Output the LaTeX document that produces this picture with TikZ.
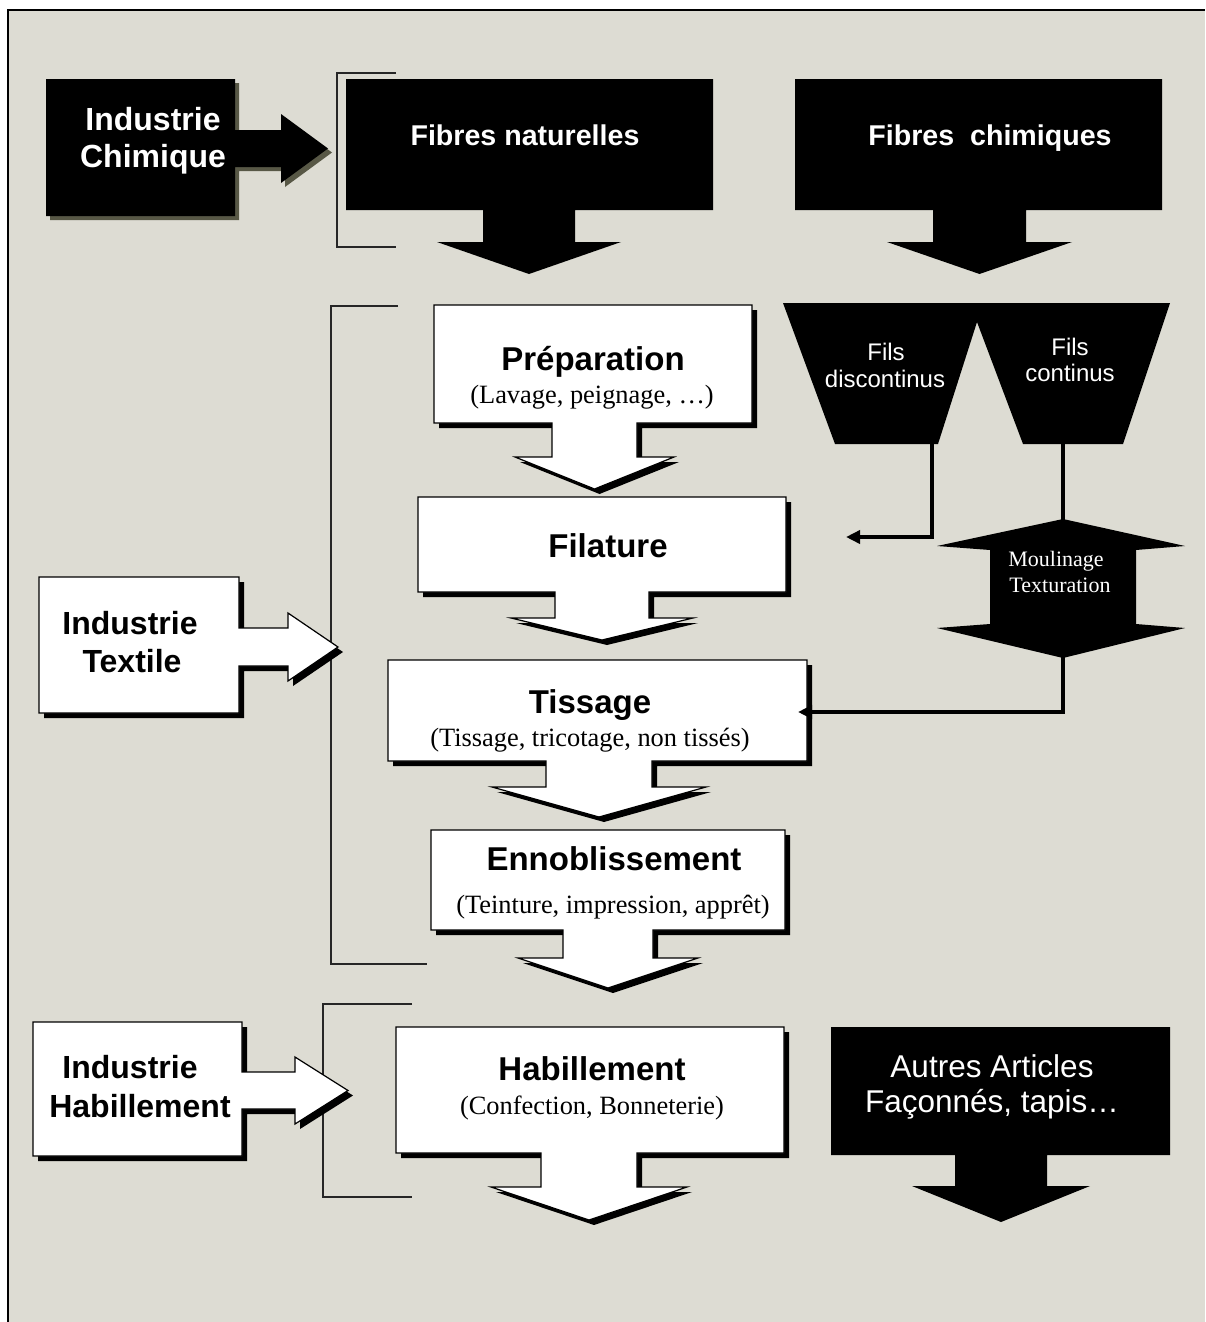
\documentclass[tikz,border=0pt]{standalone}
\usepackage{fontspec}
\setmainfont{Liberation Serif}
\setsansfont{Liberation Sans}
\usetikzlibrary{arrows.meta}
\definecolor{bg}{RGB}{221,220,211}
\definecolor{shadowc}{RGB}{88,88,70}
\tikzset{
  whiteshape/.style={fill=white, draw=black, line width=1.2pt, line join=miter},
  bracketline/.style={draw=black!85, line width=1.6pt},
  conn/.style={draw=black, line width=3.5pt},
  connarrow/.style={conn, -{Triangle[length=14pt,width=13pt]}},
  lbl/.style={inner sep=0pt, anchor=base},
  fibtxt/.style={lbl, text=white, font=\sffamily\bfseries\fontsize{28.6}{32}\selectfont},
  indwtxt/.style={lbl, text=white, font=\sffamily\bfseries\fontsize{32}{36}\selectfont},
  indbtxt/.style={lbl, text=black, font=\sffamily\bfseries\fontsize{32}{36}\selectfont},
  ttltxt/.style={lbl, text=black, font=\sffamily\bfseries\fontsize{33}{37}\selectfont},
  subtxt/.style={lbl, text=black, font=\rmfamily\fontsize{26.4}{30}\selectfont},
  filstxt/.style={lbl, text=white, font=\sffamily\fontsize{24}{28}\selectfont},
  moultxt/.style={lbl, text=white, font=\rmfamily\fontsize{22}{26}\selectfont},
  autrestxt/.style={lbl, text=white, font=\sffamily\fontsize{31.5}{35}\selectfont},
}
% box with a downward arrow: L,T,R,B, shaft L, shaft R, shaft bottom, head overhang, tip y
\newcommand\wdown[9]{%
  \fill[black,shift={(5,5)}] (#1,#2) -- (#3,#2) -- (#3,#4) -- (#6,#4) -- (#6,#7) -- ({#6+#8},#7) -- ({(#5+#6)/2},#9) -- ({#5-#8},#7) -- (#5,#7) -- (#5,#4) -- (#1,#4) -- cycle;
  \filldraw[whiteshape] (#1,#2) -- (#3,#2) -- (#3,#4) -- (#6,#4) -- (#6,#7) -- ({#6+#8},#7) -- ({(#5+#6)/2},#9) -- ({#5-#8},#7) -- (#5,#7) -- (#5,#4) -- (#1,#4) -- cycle;}
\newcommand\bdown[9]{%
  \fill[black] (#1,#2) -- (#3,#2) -- (#3,#4) -- (#6,#4) -- (#6,#7) -- ({#6+#8},#7) -- ({(#5+#6)/2},#9) -- ({#5-#8},#7) -- (#5,#7) -- (#5,#4) -- (#1,#4) -- cycle;}
% box with a rightward arrow: L,T,R,B, shaft top, shaft bottom, head x, head overhang, tip x
\newcommand\wright[9]{%
  \fill[black,shift={(5,5)}] (#1,#2) -- (#3,#2) -- (#3,#5) -- (#7,#5) -- (#7,{#5-#8}) -- (#9,{(#5+#6)/2}) -- (#7,{#6+#8}) -- (#7,#6) -- (#3,#6) -- (#3,#4) -- (#1,#4) -- cycle;
  \filldraw[whiteshape] (#1,#2) -- (#3,#2) -- (#3,#5) -- (#7,#5) -- (#7,{#5-#8}) -- (#9,{(#5+#6)/2}) -- (#7,{#6+#8}) -- (#7,#6) -- (#3,#6) -- (#3,#4) -- (#1,#4) -- cycle;}
\newcommand\bright[9]{%
  \fill[shadowc,shift={(4,4)}] (#1,#2) -- (#3,#2) -- (#3,#5) -- (#7,#5) -- (#7,{#5-#8}) -- (#9,{(#5+#6)/2}) -- (#7,{#6+#8}) -- (#7,#6) -- (#3,#6) -- (#3,#4) -- (#1,#4) -- cycle;
  \fill[black] (#1,#2) -- (#3,#2) -- (#3,#5) -- (#7,#5) -- (#7,{#5-#8}) -- (#9,{(#5+#6)/2}) -- (#7,{#6+#8}) -- (#7,#6) -- (#3,#6) -- (#3,#4) -- (#1,#4) -- cycle;}
\begin{document}
\begin{tikzpicture}[x=1pt,y=-1pt]
\useasboundingbox (0,0) rectangle (1205,1322);
\fill[white] (0,0) rectangle (1205,1322);
\fill[bg] (8,10) rectangle (1205,1322);
\draw[line width=1.5pt] (8,1322) -- (8,10) -- (1205,10);

% brackets
\draw[bracketline] (396,73) -- (337,73) -- (337,247) -- (396,247);
\draw[bracketline] (398,306) -- (331,306) -- (331,964) -- (427,964);
\draw[bracketline] (412,1004) -- (323,1004) -- (323,1197) -- (412,1197);

% industry boxes with right arrows
\bright{46}{79}{235}{216}{130}{167}{281}{16}{328}
\wright{39}{577}{239}{713}{628}{666}{288}{15}{338}
\wright{33}{1022}{242}{1156}{1072}{1109}{295}{15}{348}

% boxes with down arrows
\bdown{346}{79}{713}{210}{483}{575}{242}{46}{274}
\bdown{795}{79}{1162}{210}{933}{1026}{242}{46}{274}
\wdown{434}{305}{752}{423}{552}{637}{457}{37}{489}
\wdown{418}{497}{786}{592}{555}{649}{618}{44}{640}
\wdown{388}{660}{807}{761}{546}{652}{787}{54}{817}
\wdown{431}{830}{785}{930}{563}{653}{958}{45}{988}
\wdown{396}{1027}{784}{1153}{541}{637}{1187}{50}{1220}
\bdown{831}{1027}{1170}{1155}{955}{1047}{1186}{43}{1222}

% fils (two trapezoids)
\fill[black] (783,303) -- (1170,303) -- (1123,444) -- (1023,444) -- (977,322) -- (938,444) -- (835,444) -- cycle;
% moulinage double arrow
\fill[black] (1063,519) -- (1185,546) -- (1136,550) -- (1136,624) -- (1185,628) -- (1063,658) -- (937,628) -- (990,624) -- (990,550) -- (937,546) -- cycle;

% connector anchors
\coordinate (fdiscB) at (932,443);
\coordinate (filArr) at (846,537);
\coordinate (fcontB) at (1063,443);
\coordinate (moulT) at (1063,520);
\coordinate (moulB) at (1063,657);
\coordinate (tisArr) at (798,712);
\draw[connarrow] (fdiscB) |- (filArr);
\draw[conn] (fcontB) -- (moulT);
\draw[connarrow] (moulB) |- (tisArr);

% texts
\node[indwtxt] (ichimA) at (153,130) {Industrie};
\node[indwtxt] (ichimB) at (153,167) {Chimique};
\node[fibtxt] (fnat) at (525,145) {Fibres naturelles};
\node[fibtxt] (fchim) at (990,145) {Fibres\ \ chimiques};
\node[indbtxt] (itextA) at (130,634) {Industrie};
\node[indbtxt] (itextB) at (132,672) {Textile};
\node[indbtxt] (ihabA) at (130,1078) {Industrie};
\node[indbtxt] (ihabB) at (140,1117) {Habillement};
\node[ttltxt] (prep) at (593,370) {Préparation};
\node[subtxt] (prepsub) at (592,403) {(Lavage, peignage, …)};
\node[ttltxt] (fil) at (608,557) {Filature};
\node[ttltxt] (tis) at (590,713) {Tissage};
\node[subtxt] (tissub) at (590,746) {(Tissage, tricotage, non tissés)};
\node[ttltxt] (enn) at (614,870) {Ennoblissement};
\node[subtxt] (ennsub) at (613,913) {(Teinture, impression, apprêt)};
\node[ttltxt] (hab) at (592,1080) {Habillement};
\node[subtxt] (habsub) at (592,1114) {(Confection, Bonneterie)};
\node[filstxt] (fdiscA) at (886,360) {Fils};
\node[filstxt] (fdiscB2) at (885,387) {discontinus};
\node[filstxt] (fcontA) at (1070,355) {Fils};
\node[filstxt] (fcontB2) at (1070,381) {continus};
\node[moultxt] (moulA) at (1056,566) {Moulinage};
\node[moultxt] (moulB2) at (1060,592) {Texturation};
\node[autrestxt] (autA) at (992,1077) {Autres Articles};
\node[autrestxt] (autB) at (992,1112) {Façonnés, tapis…};
\end{tikzpicture}
\end{document}
